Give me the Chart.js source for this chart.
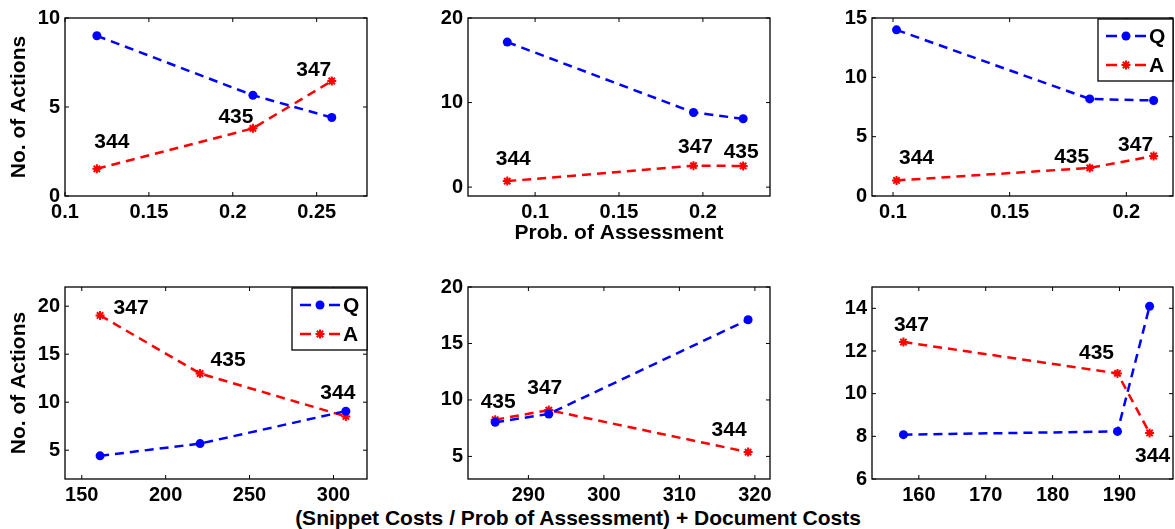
<!DOCTYPE html>
<html>
<head>
<meta charset="utf-8">
<script src="https://cdn.jsdelivr.net/npm/chart.js@4.4.1/dist/chart.umd.min.js"></script>
<style>
  body { margin: 0; background: #fff; overflow: hidden; width: 1175px; height: 529px; position: relative; }
  canvas { position: absolute; }
  #xlab { position: absolute; left: 78px; width: 1000px; top: 505px; text-align: center; white-space: nowrap;
          font: bold 21px "Liberation Sans", Arial, sans-serif; line-height: 26px; color: #000; }
</style>
</head>
<body>
<div id="xlab">(Snippet Costs / Prob of Assessment) + Document Costs</div>
<script>
// ---- data ----
var p1X = [0.119, 0.212, 0.259];
var p1Q = [9.0, 5.66, 4.41];
var p1A = [1.53, 3.8, 6.46];
var p1Ids = ['344', '435', '347'];
var p1XTicks = [0.1, 0.15, 0.2, 0.25];
var p1YTicks = [0, 5, 10];

var p2X = [0.0834, 0.1944, 0.224];
var p2Q = [17.15, 8.83, 8.08];
var p2A = [0.71, 2.54, 2.5];
var p2Ids = ['344', '347', '435'];
var p2XTicks = [0.1, 0.15, 0.2];
var p2YTicks = [0, 10, 20];

var p3X = [0.1015, 0.1843, 0.2117];
var p3Q = [14.0, 8.18, 8.05];
var p3A = [1.31, 2.37, 3.37];
var p3Ids = ['344', '435', '347'];
var p3XTicks = [0.1, 0.15, 0.2];
var p3YTicks = [0, 5, 10, 15];

var p4X = [160.9, 220.5, 307.4];
var p4Q = [4.41, 5.69, 9.07];
var p4A = [19.04, 12.99, 8.52];
var p4Ids = ['347', '435', '344'];
var p4XTicks = [150, 200, 250, 300];
var p4YTicks = [5, 10, 15, 20];

var p5X = [285.6, 292.7, 319.1];
var p5Q = [8.02, 8.76, 17.1];
var p5A = [8.25, 9.1, 5.38];
var p5Ids = ['435', '347', '344'];
var p5XTicks = [290, 300, 310, 320];
var p5YTicks = [5, 10, 15, 20];

var p6X = [157.7, 189.7, 194.5];
var p6Q = [8.08, 8.23, 14.1];
var p6A = [12.42, 10.95, 8.16];
var p6Ids = ['347', '435', '344'];
var p6XTicks = [160, 170, 180, 190];
var p6YTicks = [6, 8, 10, 12, 14];

var seriesNames = ['Q', 'A'];

// ---- layout / style ----
var BLUE = '#0000ff', RED = '#ff0000';
var FONT = '"Liberation Sans", Arial, sans-serif';
var M = { l: 65, t: 15, r: 25, b: 55 };   // canvas margin round each plot box

var panels = [
  { box: [65, 16, 302, 180],  x: p1X, q: p1Q, a: p1A, ids: p1Ids, xt: p1XTicks, yt: p1YTicks, xr: [0.1, 0.28],  yr: [0, 10],
    off: [[15, -27], [-17, -11], [-18, -11]], ytitle: 'No. of Actions' },
  { box: [468, 16, 302, 180], x: p2X, q: p2Q, a: p2A, ids: p2Ids, xt: p2XTicks, yt: p2YTicks, xr: [0.06, 0.24], yr: [-1.05, 20],
    off: [[6, -22], [2, -18], [-2, -14]], xtitle: 'Prob. of Assessment' },
  { box: [872, 16, 301, 180], x: p3X, q: p3Q, a: p3A, ids: p3Ids, xt: p3XTicks, yt: p3YTicks, xr: [0.091, 0.22], yr: [0, 15],
    off: [[20, -22], [-18, -11], [-18, -11]], legend: true },
  { box: [65, 285, 302, 194], x: p4X, q: p4Q, a: p4A, ids: p4Ids, xt: p4XTicks, yt: p4YTicks, xr: [140, 320], yr: [2, 22],
    off: [[31, -7], [28, -13], [-8, -23]], ytitle: 'No. of Actions', legend: true },
  { box: [468, 285, 302, 194], x: p5X, q: p5Q, a: p5A, ids: p5Ids, xt: p5XTicks, yt: p5YTicks, xr: [282, 322], yr: [3, 20],
    off: [[3, -18], [-4, -22], [-19, -22]] },
  { box: [872, 285, 301, 194], x: p6X, q: p6Q, a: p6A, ids: p6Ids, xt: p6XTicks, yt: p6YTicks, xr: [153, 198], yr: [6, 15],
    off: [[8, -17], [-21, -20], [3, 23]] }
];

function drawMarker(ctx, style, x, y, r, color) {
  ctx.save();
  ctx.setLineDash([]);
  ctx.fillStyle = color; ctx.strokeStyle = color; ctx.lineWidth = 2;
  ctx.beginPath();
  if (style === 'circle') {
    ctx.arc(x, y, r, 0, Math.PI * 2);
    ctx.fill();
  } else {
    var d = r * 0.707;
    ctx.moveTo(x - r, y); ctx.lineTo(x + r, y);
    ctx.moveTo(x, y - r); ctx.lineTo(x, y + r);
    ctx.moveTo(x - d, y - d); ctx.lineTo(x + d, y + d);
    ctx.moveTo(x - d, y + d); ctx.lineTo(x + d, y - d);
    ctx.stroke();
  }
  ctx.restore();
}

function makePanel(p) {
  var b = p.box;
  var cv = document.createElement('canvas');
  var W = b[2] + M.l + M.r, H = b[3] + M.t + M.b;
  cv.width = W; cv.height = H;
  cv.style.left = (b[0] - M.l) + 'px';
  cv.style.top = (b[1] - M.t) + 'px';
  cv.style.width = W + 'px';
  cv.style.height = H + 'px';
  document.body.appendChild(cv);

  // frame, inward ticks, id labels and legend
  var deco = {
    id: 'panelDeco',
    afterDatasetsDraw: function (chart) {
      var ctx = chart.ctx, a = chart.chartArea, xs = chart.scales.x, ys = chart.scales.y;
      ctx.save();
      ctx.setLineDash([]);
      ctx.strokeStyle = '#000';
      ctx.lineWidth = 1.3;
      ctx.strokeRect(a.left, a.top, a.right - a.left, a.bottom - a.top);
      var T = 4;
      ctx.lineWidth = 1;
      ctx.beginPath();
      xs.ticks.forEach(function (t) {
        var px = xs.getPixelForValue(t.value);
        ctx.moveTo(px, a.bottom); ctx.lineTo(px, a.bottom - T);
        ctx.moveTo(px, a.top); ctx.lineTo(px, a.top + T);
      });
      ys.ticks.forEach(function (t) {
        var py = ys.getPixelForValue(t.value);
        ctx.moveTo(a.left, py); ctx.lineTo(a.left + T, py);
        ctx.moveTo(a.right, py); ctx.lineTo(a.right - T, py);
      });
      ctx.stroke();

      var meta = chart.getDatasetMeta(1);
      ctx.font = 'bold 21px ' + FONT;
      ctx.fillStyle = '#000';
      ctx.textAlign = 'center';
      ctx.textBaseline = 'middle';
      p.ids.forEach(function (s, i) {
        var el = meta.data[i];
        ctx.fillText(s, el.x + p.off[i][0], el.y + p.off[i][1]);
      });

      if (p.legend) {
        var bw = 75, bh = 62, L = a.right - bw, Tp = a.top + 1;
        ctx.fillStyle = '#fff';
        ctx.fillRect(L, Tp, bw, bh);
        ctx.strokeStyle = '#000';
        ctx.lineWidth = 1.3;
        ctx.strokeRect(L, Tp, bw, bh);
        chart.data.datasets.forEach(function (ds, k) {
          var yy = Tp + 17 + k * 29;
          ctx.strokeStyle = ds.borderColor;
          ctx.lineWidth = 2.5;
          ctx.beginPath();
          ctx.moveTo(L + 8, yy); ctx.lineTo(L + 19, yy);
          ctx.moveTo(L + 37, yy); ctx.lineTo(L + 48, yy);
          ctx.stroke();
          drawMarker(ctx, ds.pointStyle, L + 28, yy, 4.5, ds.borderColor);
          ctx.fillStyle = '#000';
          ctx.textAlign = 'left';
          ctx.fillText(ds.label, L + 51, yy + 1);
        });
      }
      ctx.restore();
    }
  };

  var tickFont = { family: FONT, size: 20, weight: 'bold' };
  var titleFont = { family: FONT, size: 21, weight: 'bold' };

  new Chart(cv, {
    type: 'line',
    data: {
      datasets: [
        { label: seriesNames[0], data: p.x.map(function (v, i) { return { x: v, y: p.q[i] }; }),
          borderColor: BLUE, backgroundColor: BLUE, borderWidth: 2.5, borderDash: [9, 6], tension: 0, fill: false,
          pointStyle: 'circle', pointRadius: 4.5, pointBorderWidth: 0 },
        { label: seriesNames[1], data: p.x.map(function (v, i) { return { x: v, y: p.a[i] }; }),
          borderColor: RED, backgroundColor: RED, borderWidth: 2.5, borderDash: [9, 6], tension: 0, fill: false,
          pointStyle: 'star', pointRadius: 4.5, pointBorderWidth: 2 }
      ]
    },
    options: {
      responsive: false,
      animation: false,
      events: [],
      layout: { padding: { top: M.t, right: M.r, left: 0, bottom: 0 } },
      plugins: { legend: { display: false }, tooltip: { enabled: false } },
      scales: {
        x: {
          type: 'linear', min: p.xr[0], max: p.xr[1],
          afterBuildTicks: function (s) { s.ticks = p.xt.map(function (v) { return { value: v }; }); },
          afterFit: function (s) { s.height = M.b; },
          grid: { display: false, drawTicks: false },
          border: { display: false },
          ticks: { font: tickFont, color: '#000', padding: 4, maxRotation: 0, autoSkip: false,
                   callback: function (v) { return String(v); } },
          title: p.xtitle ? { display: true, text: p.xtitle, font: titleFont, color: '#000', padding: { top: 0, bottom: 5 } }
                          : { display: false }
        },
        y: {
          type: 'linear', min: p.yr[0], max: p.yr[1],
          afterBuildTicks: function (s) { s.ticks = p.yt.map(function (v) { return { value: v }; }); },
          afterFit: function (s) { s.width = M.l; },
          grid: { display: false, drawTicks: false },
          border: { display: false },
          ticks: { font: tickFont, color: '#000', padding: 5, autoSkip: false,
                   callback: function (v) { return String(v); } },
          title: p.ytitle ? { display: true, text: p.ytitle, font: titleFont, color: '#000', padding: { top: 7, bottom: 0 } }
                          : { display: false }
        }
      }
    },
    plugins: [deco]
  });
}

panels.forEach(makePanel);
</script>
</body>
</html>
